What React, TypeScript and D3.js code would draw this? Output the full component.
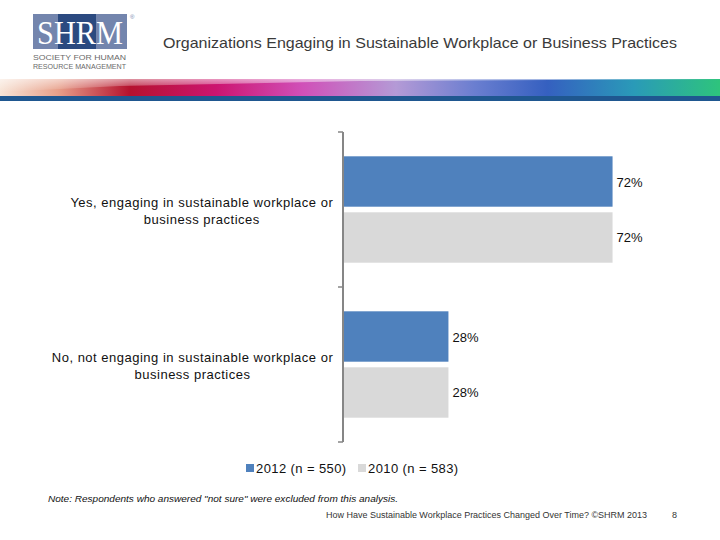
import React from "react";
import * as d3 from "d3";

const categories = [
  ["Yes, engaging in sustainable workplace or", "business practices"],
  ["No, not engaging in sustainable workplace or", "business practices"],
];
const categoryKeys = ["yes", "no"];
const seriesNames = ["2012 (n = 550)", "2010 (n = 583)"];
const series2012 = [72, 28];
const series2010 = [72, 28];
const seriesColors = ["#4f81bd", "#d9d9d9"];
const title = "Organizations Engaging in Sustainable Workplace or Business Practices";
const note = "Note: Respondents who answered \"not sure\" were excluded from this analysis.";
const footer = "How Have Sustainable Workplace Practices Changed Over Time? ©SHRM 2013";
const pageNum = "8";

const W = 720;
const H = 540;
const FONT = "'Liberation Sans', Arial, sans-serif";
const LABEL_SPACING = 0.5;

function measure(text: string, size: number): number {
  const c = document.createElement("canvas").getContext("2d");
  if (!c) return text.length * size * 0.5;
  c.font = `${size}px 'Liberation Sans', Arial, sans-serif`;
  return c.measureText(text).width + text.length * LABEL_SPACING;
}

export default function App() {
  const x = d3.scaleLinear().domain([0, 100]).range([344, 717]);
  const y = d3.scaleBand<string>().domain(categoryKeys).range([132, 442]).padding(0);
  const ySub = d3
    .scaleBand<number>()
    .domain([0, 1])
    .range([0, y.bandwidth()])
    .paddingInner(0.1)
    .paddingOuter(0.434);
  const values = [series2012, series2010];
  const tickYs = [132, ...categoryKeys.map((k) => (y(k) as number) + y.bandwidth())];
  const labelRight = 333;

  return (
    <svg width={W} height={H} style={{ position: "absolute", left: 0, top: 0 }}>
      <defs>
        <linearGradient id="stripe" x1="0" x2="1" y1="0" y2="0">
          <stop offset="0" stopColor="#f7e4d6" />
          <stop offset="0.08" stopColor="#e8a08a" />
          <stop offset="0.18" stopColor="#b5122e" />
          <stop offset="0.3" stopColor="#cc1570" />
          <stop offset="0.42" stopColor="#d050b8" />
          <stop offset="0.55" stopColor="#b49ad6" />
          <stop offset="0.66" stopColor="#6a7ed0" />
          <stop offset="0.76" stopColor="#3560c0" />
          <stop offset="0.88" stopColor="#2a9ab8" />
          <stop offset="1" stopColor="#2ec47c" />
        </linearGradient>
        <linearGradient id="fade" x1="0" x2="0" y1="0" y2="1">
          <stop offset="0" stopColor="#ffffff" stopOpacity="0.55" />
          <stop offset="1" stopColor="#ffffff" stopOpacity="0" />
        </linearGradient>
      </defs>
      <rect x={0} y={0} width={W} height={H} fill="#ffffff" />

      {/* Logo */}
      <rect x={33} y={14} width={94} height={35} fill="#7385ad" />
      <rect x={58} y={14} width={38} height={35} fill="#2b4a80" />
      <g transform="translate(80,44) scale(1,1.12)">
        <text x={0} y={0} fontFamily="'Liberation Serif', 'DejaVu Serif', serif" fontSize={31} fill="#ffffff" textAnchor="middle" textLength={86} lengthAdjust="spacingAndGlyphs">SHRM</text>
      </g>
      <text x={130} y={19} fontFamily={FONT} fontSize={6} fill="#7385ad">®</text>
      <text x={33} y={60} fontFamily={FONT} fontSize={8} fill="#6a6a6a" textLength={93} lengthAdjust="spacingAndGlyphs">SOCIETY FOR HUMAN</text>
      <text x={33} y={69} fontFamily={FONT} fontSize={8} fill="#6a6a6a" textLength={93} lengthAdjust="spacingAndGlyphs">RESOURCE MANAGEMENT</text>

      {/* Title */}
      <text x={420} y={48} fontFamily={FONT} fontSize={15} fill="#3a3a3a" textAnchor="middle" textLength={514} lengthAdjust="spacingAndGlyphs">{title}</text>

      {/* Stripe */}
      <rect x={0} y={79} width={W} height={17} fill="url(#stripe)" />
      <polygon points="0,79 0,92 120,86 360,81 720,79" fill="url(#fade)" />
      <rect x={0} y={96} width={W} height={5} fill="#1f5790" />

      {/* Bars */}
      {categoryKeys.map((k, i) => {
        const blockW = Math.max(...categories[i].map((l) => measure(l, 13)));
        const cx = labelRight - blockW / 2;
        return (
          <g key={k} transform={`translate(0,${y(k)})`}>
            {values.map((vals, s) => (
              <g key={s}>
                <rect
                  x={x(0)}
                  y={ySub(s)}
                  width={x(vals[i]) - x(0)}
                  height={ySub.bandwidth()}
                  fill={seriesColors[s]}
                />
                <text
                  x={x(vals[i]) + 4}
                  y={(ySub(s) as number) + ySub.bandwidth() / 2 + 5}
                  fontFamily={FONT}
                  fontSize={13}
                  fill="#111"
                >
                  {vals[i]}%
                </text>
              </g>
            ))}
            {categories[i].map((line, li) => (
              <text
                key={li}
                x={cx + LABEL_SPACING / 2}
                y={y.bandwidth() / 2 - 8 + li * 17 + 5}
                fontFamily={FONT}
                fontSize={13}
                letterSpacing={LABEL_SPACING}
                fill="#111"
                textAnchor="middle"
              >
                {line}
              </text>
            ))}
          </g>
        );
      })}

      {/* Axis */}
      <line x1={343} x2={343} y1={132} y2={442} stroke="#868686" strokeWidth={2} />
      {tickYs.map((t, i) => (
        <line key={i} x1={338} x2={343} y1={t} y2={t} stroke="#868686" strokeWidth={1.5} />
      ))}

      {/* Legend */}
      {seriesNames.map((n, i) => (
        <g key={n} transform={`translate(${246 + i * 112},464)`}>
          <rect x={0} y={0} width={8} height={8} fill={seriesColors[i]} />
          <text x={10} y={9} fontFamily={FONT} fontSize={13} letterSpacing={0.4} fill="#111">{n}</text>
        </g>
      ))}

      {/* Note & footer */}
      <text x={48} y={502} fontFamily={FONT} fontSize={9.5} fontStyle="italic" fill="#111" textLength={350} lengthAdjust="spacingAndGlyphs">{note}</text>
      <text x={326} y={518} fontFamily={FONT} fontSize={8.5} fill="#333" textLength={321} lengthAdjust="spacingAndGlyphs">{footer}</text>
      <text x={672} y={518} fontFamily={FONT} fontSize={9} fill="#333">{pageNum}</text>
    </svg>
  );
}
